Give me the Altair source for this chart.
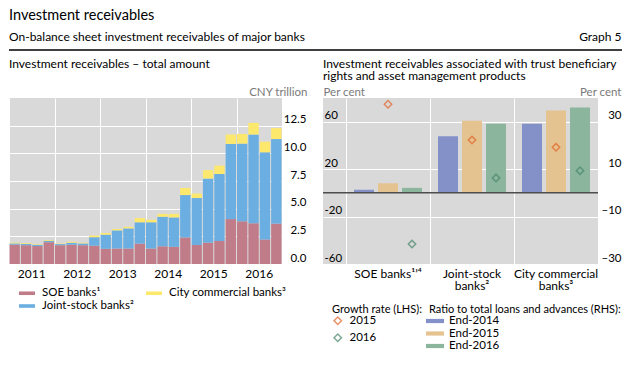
import altair as alt
import pandas as pd

FONT = "Lato"
BG = "#D9D9D9"

# ---------------- left panel data ----------------
years = [2011, 2012, 2013, 2014, 2015, 2016]
quarters = [f"{y}Q{q}" for y in years for q in (1, 2, 3, 4)]
soe_banks = [1.75, 1.70, 1.62, 1.97, 1.70, 1.75, 1.70, 1.65, 1.37, 1.40, 1.40, 1.84,
             1.40, 1.60, 1.55, 2.40, 1.72, 1.93, 2.08, 4.06, 3.86, 3.68, 2.22, 3.65]
joint_stock_banks = [0.11, 0.12, 0.12, 0.13, 0.10, 0.18, 0.16, 0.77, 1.28, 1.64, 1.82, 1.93,
                     2.37, 2.67, 2.66, 3.83, 4.24, 5.79, 6.05, 6.79, 7.02, 8.02, 7.87, 7.64]
city_commercial_banks = [0.07, 0.08, 0.06, 0.07, 0.05, 0.07, 0.06, 0.15, 0.15, 0.12, 0.14, 0.38,
                         0.23, 0.26, 0.32, 0.64, 0.41, 0.76, 0.76, 0.85, 0.87, 1.05, 0.96, 0.99]
series_names = ["SOE banks¹", "Joint-stock banks²", "City commercial banks³"]
series_colors = ["#C17C8A", "#6AAEE2", "#FDE86E"]
left_y_ticks = [0, 2.5, 5, 7.5, 10, 12.5]

# ---------------- right panel data ----------------
bank_groups = ["SOE banks¹ʼ⁴", "Joint-stock|banks²", "City commercial|banks³"]
ratio_periods = ["End-2014", "End-2015", "End-2016"]
ratio_end_2014 = [1.3, 23.9, 29.1]
ratio_end_2015 = [4.0, 30.4, 34.7]
ratio_end_2016 = [2.1, 29.1, 36.0]
ratio_colors = ["#8491C8", "#E5C391", "#8BB59D"]
growth_years = ["2015", "2016"]
growth_2015 = [74.7, 44.5, 38.4]
growth_2016 = [-43.2, 12.5, 18.7]
growth_colors = ["#E26428", "#468769"]

# ---------------- tables ----------------
rows = []
for i, q in enumerate(quarters):
    for k, vals in enumerate([soe_banks, joint_stock_banks, city_commercial_banks]):
        rows.append({"quarter": q, "series": series_names[k], "value": vals[i], "order": k})
left_df = pd.DataFrame(rows)

rb = []
for j, g in enumerate(bank_groups):
    for p, vals in zip(ratio_periods, [ratio_end_2014, ratio_end_2015, ratio_end_2016]):
        rb.append({"cat": g, "slot": p, "ratio": vals[j]})
ratio_df = pd.DataFrame(rb)

rp = []
for j, g in enumerate(bank_groups):
    for yr, slot, vals in zip(growth_years, ["End-2015", "End-2016"], [growth_2015, growth_2016]):
        rp.append({"cat": g, "slot": slot, "year": yr, "growth": vals[j]})
growth_df = pd.DataFrame(rp)

RECT_L = "M-1.333,-0.3L1.333,-0.3L1.333,0.3L-1.333,0.3Z"
RECT_R = "M-1.5,-0.35L1.5,-0.35L1.5,0.35L-1.5,0.35Z"


def txt(text, x, y, size, align="left", color="black"):
    return alt.Chart(pd.DataFrame({"t": [text]})).mark_text(
        align=align, baseline="alphabetic", fontSize=size, font=FONT, color=color,
    ).encode(x=alt.value(x), y=alt.value(y), text="t:N")


# ---------------- layout constants ----------------
LW, H = 273, 166
step = LW / 24
RW = 275
GAP = 41

# ---------------- left panel ----------------
bars_left = alt.Chart(left_df).mark_bar().encode(
    x=alt.X("quarter:O",
            scale=alt.Scale(domain=quarters, paddingInner=0.09, paddingOuter=0.045),
            axis=alt.Axis(values=[q for q in quarters if q.endswith("Q1")], bandPosition=0,
                          labelExpr="slice(datum.value, 0, 4)", labelOffset=1.5 * step,
                          labelAlign="center", labelFlush=False,
                          labelOverlap=False, grid=True, gridColor="white", gridWidth=1,
                          ticks=False, tickSize=0, domain=False, labelPadding=13,
                          labelBaseline="alphabetic", labelAngle=0, labelFontSize=12,
                          title=None)),
    y=alt.Y("value:Q", stack="zero",
            scale=alt.Scale(domain=[0, 15], nice=False),
            axis=alt.Axis(orient="right", values=left_y_ticks, format=".1f", grid=True,
                          gridColor="white", ticks=False, tickSize=0, domain=False,
                          labelAlign="right", labelPadding=24, labelBaseline="alphabetic",
                          labelOffset=-3, labelFontSize=11.5,
                          title="CNY trillion", titleAngle=0, titleAlign="right",
                          titleBaseline="alphabetic", titleX=25, titleY=-3)),
    color=alt.Color("series:N",
                    scale=alt.Scale(domain=series_names, range=series_colors),
                    legend=alt.Legend(title=None, orient="none", legendX=12, legendY=189,
                                      columns=2, columnPadding=12, rowPadding=1,
                                      symbolType=RECT_L, symbolSize=144, symbolStrokeWidth=0,
                                      symbolOpacity=1, labelFontSize=11.5, labelOffset=9,
                                      padding=0, labelLimit=300)),
    order=alt.Order("order:Q", sort="ascending"),
)

header_rule = alt.Chart(pd.DataFrame({"a": [0]})).mark_rule(color="black", strokeWidth=1.5).encode(
    x=alt.value(0), x2=alt.value(613), y=alt.value(-48)
)

left = alt.layer(
    bars_left,
    txt("Investment receivables", 0, -78, 14.5),
    txt("On-balance sheet investment receivables of major banks", 0, -57.5, 12),
    txt("Graph 5", 612.5, -57.5, 12, align="right"),
    header_rule,
    txt("Investment receivables – total amount", 0, -30.5, 12),
).properties(width=LW, height=H)

# ---------------- right panel ----------------
x_enc = alt.X("cat:N",
              scale=alt.Scale(domain=bank_groups, paddingInner=0, paddingOuter=0.137, align=1),
              axis=alt.Axis(bandPosition=0, labelOffset=0, labelExpr="split(datum.value, '|')",
                            labelAlign="center", labelFlush=False,
                            grid=True, gridColor="white", ticks=False, tickSize=0, domain=False,
                            labelPadding=13, labelBaseline="alphabetic", labelAngle=0,
                            labelFontSize=12, labelLineHeight=12, labelOverlap=False,
                            title=None))
xoff_enc = alt.XOffset("slot:N", scale=alt.Scale(domain=ratio_periods, paddingInner=0.167,
                                                  paddingOuter=0.333))

y_ratio = alt.Y("ratio:Q", scale=alt.Scale(domain=[-30, 40], nice=False),
                axis=alt.Axis(orient="right", values=[-30, -10, 10, 30], grid=False,
                              ticks=False, tickSize=0, domain=False, labelAlign="right",
                              labelPadding=23, labelBaseline="alphabetic", labelOffset=-3,
                              labelExpr="datum.value < 0 ? '–' + abs(datum.value) : '' + datum.value",
                              title="Per cent", titleAngle=0, titleAlign="right",
                              titleBaseline="alphabetic", titleX=23, titleY=-3))

bars_right = alt.Chart(ratio_df).mark_bar().encode(
    x=x_enc, xOffset=xoff_enc, y=y_ratio,
    fill=alt.Fill("slot:N", scale=alt.Scale(domain=ratio_periods, range=ratio_colors),
                  legend=alt.Legend(title="Ratio to total loans and advances (RHS):",
                                    orient="none", legendX=420, legendY=206,
                                    symbolType=RECT_R, symbolSize=144, symbolStrokeWidth=0,
                                    symbolOpacity=1, rowPadding=0.5, labelOffset=8,
                                    titlePadding=0, padding=0, titleLimit=400,
                                    labelFontSize=11.5, titleFontSize=11)),
)
zero_rule = alt.Chart(pd.DataFrame({"a": [0]})).mark_rule(color="#4d4d4d", strokeWidth=1.5).encode(
    y=alt.datum(0), x=alt.value(0), x2=alt.value(RW)
)
ratio_layer = alt.layer(bars_right, zero_rule)

points = alt.Chart(growth_df).mark_point(shape="diamond", filled=False, size=55, strokeWidth=1.5).encode(
    x=x_enc, xOffset=xoff_enc,
    y=alt.Y("growth:Q", scale=alt.Scale(domain=[-60, 80], nice=False),
            axis=alt.Axis(orient="left", values=[-60, -20, 20, 60], grid=True, gridColor="white",
                          ticks=False, tickSize=0, domain=False, labelAlign="left",
                          labelPadding=-1, labelBaseline="alphabetic", labelOffset=-3,
                          labelExpr="'' + datum.value",
                          title="Per cent", titleAngle=0, titleAlign="left",
                          titleBaseline="alphabetic", titleX=0, titleY=-3)),
    stroke=alt.Stroke("year:N", scale=alt.Scale(domain=growth_years, range=growth_colors),
                      legend=alt.Legend(title="Growth rate (LHS):", orient="none",
                                        legendX=323, legendY=206, symbolType="diamond",
                                        symbolSize=55, symbolStrokeWidth=1.5, rowPadding=3,
                                        labelOffset=6, titlePadding=0, padding=0,
                                        labelFontSize=11.5, titleFontSize=11)),
)

right = alt.layer(
    ratio_layer, points,
    txt("Investment receivables associated with trust beneficiary", 0, -30.5, 12),
    txt("rights and asset management products", 0, -18.5, 12),
).resolve_scale(y="independent").properties(width=RW, height=H)

chart = alt.hconcat(left, right, spacing=GAP, bounds="flush").properties(
    padding={"left": 0, "top": 0, "right": 0, "bottom": 0}
).configure_view(fill=BG, stroke=None).configure_axis(
    labelFont=FONT, titleFont=FONT, labelColor="black", labelFontSize=11.5,
    titleFontSize=11.5, titleFontWeight="normal", titleColor="#7a7a7a",
).configure_legend(
    labelFont=FONT, titleFont=FONT, titleFontWeight="normal", titleColor="black",
    labelColor="black",
)

chart.save("out.html", embed_options={"renderer": "svg", "actions": False})
